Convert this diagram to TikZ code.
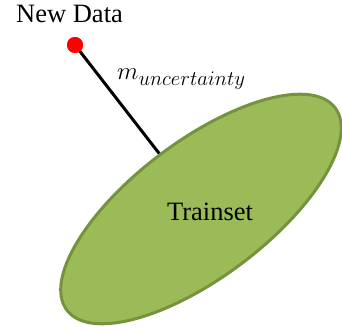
\documentclass[tikz,border=0pt]{standalone}
\usepackage{fontspec}
\setmainfont{Liberation Serif}
\usetikzlibrary{shapes.geometric}
\definecolor{setfill}{HTML}{9BBB59}
\definecolor{setline}{HTML}{76923C}
\tikzset{
  trainset/.style={draw=setline, fill=setfill, line width=3pt, ellipse,
    inner sep=0pt, minimum width=336pt, minimum height=136pt},
  datapoint/.style={circle, fill=red, inner sep=0pt, minimum size=16pt},
  link/.style={line width=3pt, black},
  lbl/.style={inner sep=0pt, font=\fontsize{26.5}{30}\selectfont}
}
\newcommand{\subtext}[1]{\mbox{\fontsize{21}{24}\selectfont$#1$}}
\begin{document}
\begin{tikzpicture}[x=1pt, y=-1pt]
  \useasboundingbox (0,0) rectangle (342,331);
  % training set region
  \node[trainset, rotate=37] (train) at (201,209) {};
  \node[lbl, anchor=base] (tlabel) at (210,220) {Trainset};
  % new sample and its distance to the set
  \node[datapoint] (new) at (75,45) {};
  \draw[link] (new.center) -- (train.north);
  \node[datapoint] at (new) {};
  \node[lbl, anchor=base west] (nlabel) at (16,23) {New Data};
  \node[inner sep=0pt, anchor=base west, font=\fontsize{25}{30}\selectfont]
    (mlabel) at (117,80) {$m_{\subtext{uncertainty}}$};
\end{tikzpicture}
\end{document}
